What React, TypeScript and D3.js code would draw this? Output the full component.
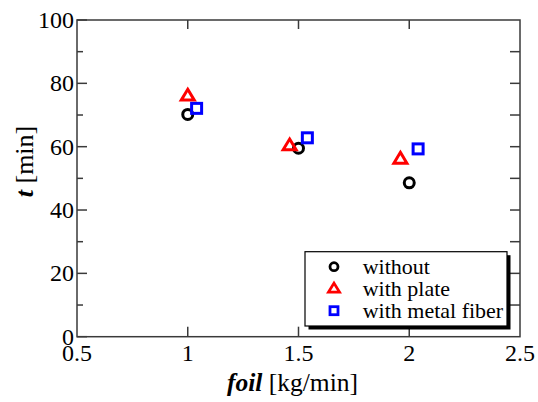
import React from "react";
import * as d3 from "d3";

// Feed rate of foil [kg/min] and time t [min] for three configurations
const withoutX = [1.0, 1.5, 2.0];
const withoutY = [70.2, 59.5, 48.6];
const plateX = [1.0, 1.46, 1.96];
const plateY = [76.0, 60.3, 56.1];
const fiberX = [1.04, 1.54, 2.04];
const fiberY = [72.1, 62.8, 59.3];

const xTickLabels = ["0.5", "1", "1.5", "2", "2.5"];
const xTickValues = [0.5, 1, 1.5, 2, 2.5];
const yTickValues = [0, 20, 40, 60, 80, 100];
const yMinorValues = [10, 30, 50, 70, 90];
const legendLabels = ["without", "with plate", "with metal fiber"];

const W = 538;
const H = 402;
const margin = { left: 77, right: 18, top: 20, bottom: 65.3 };
const FONT = "Liberation Serif";
const AXIS = "#3a3a3a";

type Shape = "circle" | "triangle" | "square";

function Marker({ shape, x, y, size, color, sw }: { shape: Shape; x: number; y: number; size: number; color: string; sw: number }) {
  if (shape === "circle") {
    return <circle cx={x} cy={y} r={size / 2} fill="none" stroke={color} strokeWidth={sw} />;
  }
  if (shape === "square") {
    return <rect x={x - size / 2} y={y - size / 2} width={size} height={size} fill="none" stroke={color} strokeWidth={sw} />;
  }
  const h = size * 0.9;
  const p = `M${x},${y - h * 0.62} L${x + size / 2 + 0.5},${y + h * 0.38} L${x - size / 2 - 0.5},${y + h * 0.38} Z`;
  return <path d={p} fill="none" stroke={color} strokeWidth={sw} strokeLinejoin="miter" />;
}

export default function App() {
  const x = d3.scaleLinear().domain([0.5, 2.5]).range([margin.left, W - margin.right]);
  const y = d3.scaleLinear().domain([0, 100]).range([H - margin.bottom, margin.top]);
  const x0 = x.range()[0];
  const x1 = x.range()[1];
  const y0 = y.range()[0];
  const y1 = y.range()[1];

  const series: { xs: number[]; ys: number[]; shape: Shape; color: string }[] = [
    { xs: withoutX, ys: withoutY, shape: "circle", color: "#000000" },
    { xs: plateX, ys: plateY, shape: "triangle", color: "#ff0000" },
    { xs: fiberX, ys: fiberY, shape: "square", color: "#0000ff" },
  ];

  const innerX = xTickValues.filter((v) => v > 0.5 && v < 2.5);
  const rightTicks = d3.range(10, 100, 10);

  // legend box
  const lg = { x: 305, y: 251.7, w: 202, h: 74.3 };

  return (
    <svg width={W} height={H} fontFamily={FONT} style={{ position: "absolute", left: 0, top: 0, background: "#fff", fontFamily: FONT }}>
      {/* frame */}
      <rect x={x0} y={y1} width={x1 - x0} height={y0 - y1} fill="none" stroke={AXIS} strokeWidth={1.5} />
      {/* left axis ticks */}
      {yTickValues.map((v) => (
        <line key={"ly" + v} x1={x0} x2={x0 + 10} y1={y(v)} y2={y(v)} stroke={AXIS} strokeWidth={1.5} />
      ))}
      {yMinorValues.map((v) => (
        <line key={"lym" + v} x1={x0} x2={x0 + 6} y1={y(v)} y2={y(v)} stroke={AXIS} strokeWidth={1.5} />
      ))}
      {/* right axis ticks */}
      {rightTicks.map((v) => (
        <line key={"ry" + v} x1={x1} x2={x1 - 10} y1={y(v)} y2={y(v)} stroke={AXIS} strokeWidth={1.5} />
      ))}
      {/* bottom and top ticks */}
      {innerX.map((v) => (
        <g key={"xt" + v}>
          <line x1={x(v)} x2={x(v)} y1={y0} y2={y0 - 10} stroke={AXIS} strokeWidth={1.5} />
          <line x1={x(v)} x2={x(v)} y1={y1} y2={y1 + 9} stroke={AXIS} strokeWidth={1.5} />
        </g>
      ))}
      {/* y tick labels */}
      {yTickValues.map((v) => (
        <text key={"yl" + v} x={x0 - 3} y={y(v) + 8} textAnchor="end" fontSize={24} fontFamily={FONT} style={{ fontFamily: FONT }}>
          {v}
        </text>
      ))}
      {/* x tick labels */}
      {xTickValues.map((v, i) => (
        <text key={"xl" + v} x={x(v)} y={y0 + 24} textAnchor="middle" fontSize={24} fontFamily={FONT} style={{ fontFamily: FONT }}>
          {xTickLabels[i]}
        </text>
      ))}
      {/* axis titles */}
      <text x={292.5} y={391} textAnchor="middle" fontSize={25.5} fontFamily={FONT} style={{ fontFamily: FONT }}>
        <tspan fontWeight="bold" fontStyle="italic">foil</tspan>
        <tspan> [kg/min]</tspan>
      </text>
      <text transform={`translate(33,161.5) rotate(-90)`} textAnchor="middle" fontSize={26} fontFamily={FONT} style={{ fontFamily: FONT }}>
        <tspan fontWeight="bold" fontStyle="italic">t</tspan>
        <tspan> [min]</tspan>
      </text>
      {/* data markers */}
      {series.map((s) =>
        s.xs.map((xv, i) => (
          <Marker key={s.shape + i} shape={s.shape} x={x(xv)} y={y(s.ys[i])} size={s.shape === "triangle" ? 12 : 10} color={s.color} sw={3} />
        ))
      )}
      {/* legend */}
      <rect x={lg.x + 3.5} y={lg.y + 3.5} width={lg.w} height={lg.h} fill="#000" />
      <rect x={lg.x} y={lg.y} width={lg.w} height={lg.h} fill="#fff" stroke="#000" strokeWidth={1.2} />
      {series.map((s, i) => (
        <g key={"lg" + i}>
          <Marker shape={s.shape} x={334} y={lg.y + 15 + i * 22} size={s.shape === "triangle" ? 10 : 8} color={s.color} sw={2.8} />
          <text x={362.7} y={lg.y + 22.3 + i * 22} fontSize={22} fontFamily={FONT} style={{ fontFamily: FONT }}>
            {legendLabels[i]}
          </text>
        </g>
      ))}
    </svg>
  );
}
